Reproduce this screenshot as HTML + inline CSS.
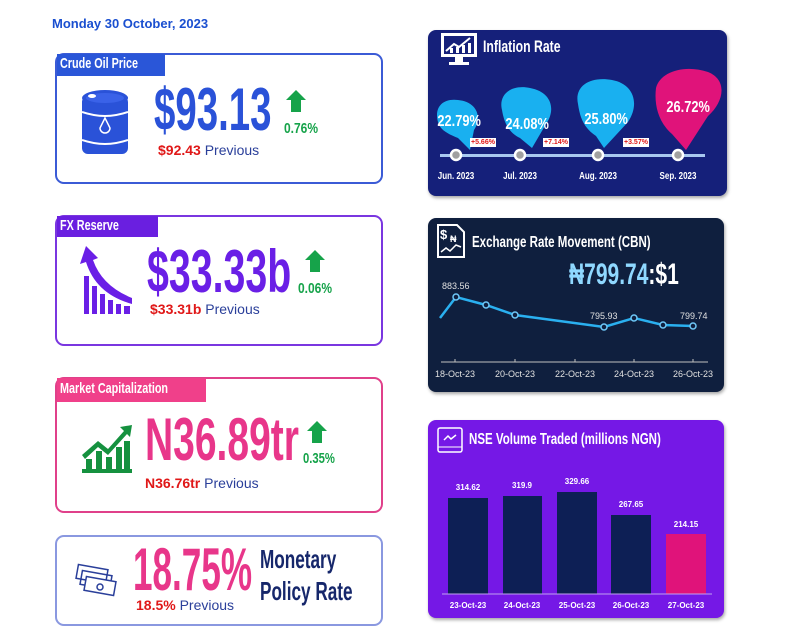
<!DOCTYPE html>
<html><head><meta charset="utf-8"><style>
*{margin:0;padding:0;box-sizing:border-box}
body{width:785px;height:633px;background:#fff;position:relative;overflow:hidden;font-family:"Liberation Sans",sans-serif}
.a{position:absolute;white-space:nowrap}
.c{transform-origin:0 0;font-weight:bold;display:inline-block;white-space:nowrap}
.card{position:absolute;border:2px solid;border-radius:9px;background:#fff}
.tab{position:absolute;color:#fff;font-weight:bold;font-size:15px;padding-left:3px;white-space:nowrap;overflow:visible}
.tab span{display:inline-block;transform:scaleX(.72);transform-origin:0 0;white-space:nowrap}
.prev{font-size:14px;color:#2a3f9a}
.prev b{color:#e01818}
.up{position:absolute;width:20px;height:22px}
.panel{position:absolute;border-radius:8px;box-shadow:1px 2px 3px rgba(0,0,0,.35)}
.drop{position:absolute}
.dt{position:absolute;color:#fff;font-weight:bold;font-size:16px;text-align:center}
.dt span{display:inline-block;transform:scaleX(.8)}
.badge{position:absolute;background:#fff;color:#e01818;font-size:7px;font-weight:bold;padding:0 1px;line-height:9px}
.ml{position:absolute;color:#fff;font-size:10px;font-weight:bold;transform:scaleX(.8);transform-origin:50% 0;width:60px;text-align:center}
</style></head><body>
<div class="a" style="left:52px;top:16px;color:#1a4fd0;font-weight:bold;font-size:13px">Monday 30 October, 2023</div>

<!-- Card 1 -->
<div class="card" style="left:55px;top:53px;width:328px;height:131px;border-color:#3b5bd6"></div>
<div class="tab" style="left:57px;top:54px;width:108px;height:22px;background:#2a56d8;line-height:20px"><span>Crude Oil Price</span></div>
<svg class="a" style="left:82px;top:90px" width="46" height="70" viewBox="0 0 46 70">
<rect x="0" y="6" width="46" height="58" rx="6" fill="#2a52d8"/>
<ellipse cx="23" cy="8" rx="23" ry="8" fill="#2a52d8"/><ellipse cx="23" cy="8" rx="19" ry="5" fill="#3a62e8"/><ellipse cx="10" cy="6" rx="4" ry="2" fill="#fff"/>
<path d="M0 22 Q23 30 46 22" stroke="#fff" stroke-width="2" fill="none"/>
<path d="M0 50 Q23 58 46 50" stroke="#fff" stroke-width="2" fill="none"/>
<path d="M23 28 L18 38 A5 5 0 0 0 28 38 Z" stroke="#fff" stroke-width="1.5" fill="none"/>
</svg>
<div class="a" style="left:154px;top:80px;color:#2a52d8;font-size:60px;line-height:60px"><span class="c" style="transform:scaleX(.64)">$93.13</span></div>
<svg class="up" style="left:286px;top:90px" viewBox="0 0 20 22"><path d="M10 0 L20 10 L15 10 L15 22 L5 22 L5 10 L0 10Z" fill="#16a34a"/></svg>
<div class="a" style="left:284px;top:121px;color:#16a34a;font-size:15px;line-height:16px"><span class="c" style="transform:scaleX(.8)">0.76%</span></div>
<div class="a prev" style="left:158px;top:142px"><b>$92.43</b> Previous</div>

<!-- Card 2 -->
<div class="card" style="left:55px;top:215px;width:328px;height:131px;border-color:#7a36e0"></div>
<div class="tab" style="left:57px;top:216px;width:101px;height:21px;background:#6a1fe0;line-height:19px"><span>FX Reserve</span></div>
<svg class="a" style="left:80px;top:246px" width="54" height="70" viewBox="0 0 54 70">
<path d="M6 0 L18 12 L13 14 Q22 40 52 52 L52 58 Q16 48 6 16 L0 18Z" fill="#6a1fe6"/>
<rect x="4" y="30" width="5" height="38" fill="#6a1fe6"/><rect x="12" y="40" width="5" height="28" fill="#6a1fe6"/><rect x="20" y="48" width="5" height="20" fill="#6a1fe6"/><rect x="28" y="54" width="5" height="14" fill="#6a1fe6"/><rect x="36" y="58" width="5" height="10" fill="#6a1fe6"/><rect x="44" y="60" width="6" height="8" fill="#6a1fe6"/>
</svg>
<div class="a" style="left:147px;top:242px;color:#6a1fe6;font-size:60px;line-height:60px"><span class="c" style="transform:scaleX(.655)">$33.33b</span></div>
<svg class="up" style="left:305px;top:250px" viewBox="0 0 20 22"><path d="M10 0 L20 10 L15 10 L15 22 L5 22 L5 10 L0 10Z" fill="#16a34a"/></svg>
<div class="a" style="left:298px;top:281px;color:#16a34a;font-size:15px;line-height:16px"><span class="c" style="transform:scaleX(.8)">0.06%</span></div>
<div class="a prev" style="left:150px;top:301px"><b>$33.31b</b> Previous</div>

<!-- Card 3 -->
<div class="card" style="left:55px;top:377px;width:328px;height:136px;border-color:#e0408a"></div>
<div class="tab" style="left:57px;top:378px;width:149px;height:24px;background:#f0408a;line-height:22px"><span>Market Capitalization</span></div>
<svg class="a" style="left:80px;top:425px" width="54" height="48" viewBox="0 0 54 48">
<path d="M2 30 L18 16 L28 24 L44 6 L40 2 L52 0 L50 12 L47 9 L28 30 L18 22 L5 34Z" fill="#15913f"/>
<rect x="6" y="34" width="6" height="10" fill="#15913f"/><rect x="16" y="26" width="6" height="18" fill="#15913f"/><rect x="26" y="32" width="6" height="12" fill="#15913f"/><rect x="36" y="22" width="6" height="22" fill="#15913f"/><rect x="44" y="16" width="6" height="28" fill="#15913f"/><rect x="2" y="44" width="50" height="4" fill="#15913f"/>
</svg>
<div class="a" style="left:145px;top:410px;color:#e8368a;font-size:60px;line-height:60px"><span class="c" style="transform:scaleX(.65)">N36.89tr</span></div>
<svg class="up" style="left:307px;top:421px" viewBox="0 0 20 22"><path d="M10 0 L20 10 L15 10 L15 22 L5 22 L5 10 L0 10Z" fill="#16a34a"/></svg>
<div class="a" style="left:303px;top:451px;color:#16a34a;font-size:15px;line-height:16px"><span class="c" style="transform:scaleX(.75)">0.35%</span></div>
<div class="a prev" style="left:145px;top:475px"><b>N36.76tr</b> Previous</div>

<!-- Card 4 -->
<div class="card" style="left:55px;top:535px;width:328px;height:91px;border-color:#8a98e0"></div>
<svg class="a" style="left:75px;top:563px" width="44" height="34" viewBox="0 0 44 34">
<g fill="none" stroke="#2a3f9a" stroke-width="1.5"><rect x="2" y="4" width="30" height="14" transform="rotate(10 17 11)"/><rect x="6" y="10" width="30" height="14" transform="rotate(10 21 17)"/><rect x="10" y="16" width="30" height="14" fill="#fff" transform="rotate(10 25 23)"/><circle cx="25" cy="24" r="3"/></g>
</svg>
<div class="a" style="left:133px;top:540px;color:#e8368a;font-size:60px;line-height:60px"><span class="c" style="transform:scaleX(.585)">18.75%</span></div>
<div class="a" style="left:260px;top:544px;color:#16276b;font-size:26px;line-height:30px"><span class="c" style="transform:scaleX(.66)">Monetary</span></div>
<div class="a" style="left:260px;top:576px;color:#16276b;font-size:26px;line-height:30px"><span class="c" style="transform:scaleX(.66)">Policy Rate</span></div>
<div class="a prev" style="left:136px;top:597px"><b>18.5%</b> Previous</div>

<!-- Inflation -->
<div class="panel" style="left:428px;top:30px;width:299px;height:166px;background:#15207a"></div>
<svg class="a" style="left:440px;top:32px" width="40" height="36" viewBox="0 0 40 36">
<rect x="1" y="1" width="36" height="24" fill="#fff"/><rect x="4" y="4" width="30" height="18" fill="#15207a"/>
<path d="M6 19 L14 12 L19 15 L30 6" stroke="#fff" stroke-width="2" fill="none"/>
<rect x="10" y="16" width="3" height="5" fill="#fff"/><rect x="16" y="15" width="3" height="6" fill="#fff"/><rect x="22" y="13" width="3" height="8" fill="#fff"/><rect x="28" y="11" width="3" height="10" fill="#fff"/>
<rect x="15" y="25" width="8" height="5" fill="#fff"/><rect x="9" y="30" width="20" height="3" fill="#fff"/></svg>
<div class="a" style="left:483px;top:37px;color:#fff;font-size:17px"><span class="c" style="transform:scaleX(.72)">Inflation Rate</span></div>
<div class="a" style="left:440px;top:154px;width:265px;height:3px;background:#a8c8f0"></div>
<svg class="a" style="left:428px;top:60px" width="300" height="95">
<path d="M10 62 C6 48 14 38 30 40 C50 42 54 58 46 70 L42 90 L30 78 C20 74 12 70 10 62Z" fill="#19b0f0"/>
<path d="M74 50 C70 34 84 24 102 28 C124 32 128 50 118 64 L104 88 L92 78 C80 72 76 62 74 50Z" fill="#19b0f0"/>
<path d="M150 44 C146 26 162 16 184 20 C206 24 212 44 200 62 L176 88 L168 76 C156 68 152 58 150 44Z" fill="#19b0f0"/>
<path d="M228 28 C232 12 256 4 280 12 C300 20 296 42 280 56 L258 90 L244 74 C230 62 226 44 228 28Z" fill="#e0137a"/>
</svg>
<div class="dt" style="left:432px;top:113px;width:52px"><span>22.79%</span></div>
<div class="dt" style="left:499px;top:116px;width:56px"><span>24.08%</span></div>
<div class="dt" style="left:576px;top:111px;width:60px"><span>25.80%</span></div>
<div class="dt" style="left:655px;top:99px;width:66px"><span>26.72%</span></div>
<div class="badge" style="left:470px;top:138px">+5.66%</div>
<div class="badge" style="left:543px;top:138px">+7.14%</div>
<div class="badge" style="left:623px;top:138px">+3.57%</div>
<svg class="a" style="left:440px;top:145px" width="260" height="20"><g fill="#a0a0a0" stroke="#fff" stroke-width="2.5"><circle cx="16" cy="10" r="5"/><circle cx="80" cy="10" r="5"/><circle cx="158" cy="10" r="5"/><circle cx="238" cy="10" r="5"/></g></svg>
<div class="ml" style="left:426px;top:171px">Jun. 2023</div>
<div class="ml" style="left:490px;top:171px">Jul. 2023</div>
<div class="ml" style="left:568px;top:171px">Aug. 2023</div>
<div class="ml" style="left:648px;top:171px">Sep. 2023</div>

<!-- Exchange -->
<div class="panel" style="left:428px;top:218px;width:296px;height:174px;background:#0f1f3e"></div>
<svg class="a" style="left:437px;top:224px" width="28" height="34" viewBox="0 0 28 34"><path d="M1 1 H20 L27 8 V33 H1Z" fill="none" stroke="#fff" stroke-width="2"/><text x="3" y="15" fill="#fff" font-size="13" font-weight="bold" font-family="Liberation Sans">$</text><text x="13" y="18" fill="#fff" font-size="9" font-weight="bold" font-family="Liberation Sans">₦</text><path d="M4 28 L9 24 L13 27 L19 21 L24 23" stroke="#fff" stroke-width="1.5" fill="none"/></svg>
<div class="a" style="left:472px;top:234px;color:#fff;font-size:16px"><span class="c" style="transform:scaleX(.72)">Exchange Rate Movement (CBN)</span></div>
<div class="a" style="left:569px;top:259px;font-size:30px;line-height:32px"><span class="c" style="transform:scaleX(.7);color:#8fd8ff">₦799.74<span style="color:#fff">:$1</span></span></div>
<svg class="a" style="left:428px;top:218px" width="296" height="174">
<polyline points="12,100 28,79 58,87 87,97 176,109 206,100 235,107 265,108" fill="none" stroke="#2ab0f0" stroke-width="2.5"/>
<g fill="#0f1f3e" stroke="#6fc8f8" stroke-width="1.5"><circle cx="28" cy="79" r="3"/><circle cx="58" cy="87" r="3"/><circle cx="87" cy="97" r="3"/><circle cx="176" cy="109" r="3"/><circle cx="206" cy="100" r="3"/><circle cx="235" cy="107" r="3"/><circle cx="265" cy="108" r="3"/></g>
<g fill="#e0e0e0" font-size="9" font-family="Liberation Sans"><text x="14" y="71">883.56</text><text x="162" y="101">795.93</text><text x="252" y="101">799.74</text></g>
<line x1="13" y1="144" x2="280" y2="144" stroke="#c0c0c0" stroke-width="1"/>
<g stroke="#c0c0c0"><line x1="27" y1="141" x2="27" y2="144"/><line x1="87" y1="141" x2="87" y2="144"/><line x1="147" y1="141" x2="147" y2="144"/><line x1="206" y1="141" x2="206" y2="144"/><line x1="265" y1="141" x2="265" y2="144"/></g>
<g fill="#e0e0e0" font-size="9" font-family="Liberation Sans" text-anchor="middle"><text x="27" y="159">18-Oct-23</text><text x="87" y="159">20-Oct-23</text><text x="147" y="159">22-Oct-23</text><text x="206" y="159">24-Oct-23</text><text x="265" y="159">26-Oct-23</text></g>
</svg>

<!-- NSE -->
<div class="panel" style="left:428px;top:420px;width:296px;height:198px;background:#7518e6"></div>
<svg class="a" style="left:437px;top:427px" width="26" height="26" viewBox="0 0 26 26"><rect x="1" y="1" width="24" height="24" rx="2" fill="none" stroke="#fff" stroke-width="1.5"/><line x1="1" y1="20" x2="25" y2="20" stroke="#fff"/><path d="M7 13 L11 9 L14 12 L19 8" stroke="#fff" stroke-width="1.5" fill="none"/></svg>
<div class="a" style="left:469px;top:431px;color:#fff;font-size:16px"><span class="c" style="transform:scaleX(.72)">NSE Volume Traded (millions NGN)</span></div>
<svg class="a" style="left:428px;top:420px" width="296" height="198">
<g fill="#0d1f55"><rect x="20" y="78" width="40" height="96"/><rect x="75" y="76" width="39" height="98"/><rect x="129" y="72" width="40" height="102"/><rect x="183" y="95" width="40" height="79"/></g>
<rect x="238" y="114" width="40" height="60" fill="#e0137a"/>
<line x1="14" y1="174" x2="284" y2="174" stroke="#c0a0f0"/>
<g fill="#fff" font-size="8" font-weight="bold" font-family="Liberation Sans" text-anchor="middle"><text x="40" y="70">314.62</text><text x="94" y="68">319.9</text><text x="149" y="64">329.66</text><text x="203" y="87">267.65</text><text x="258" y="107">214.15</text>
<text x="40" y="188">23-Oct-23</text><text x="94" y="188">24-Oct-23</text><text x="149" y="188">25-Oct-23</text><text x="203" y="188">26-Oct-23</text><text x="258" y="188">27-Oct-23</text></g>
</svg>
</body></html>
